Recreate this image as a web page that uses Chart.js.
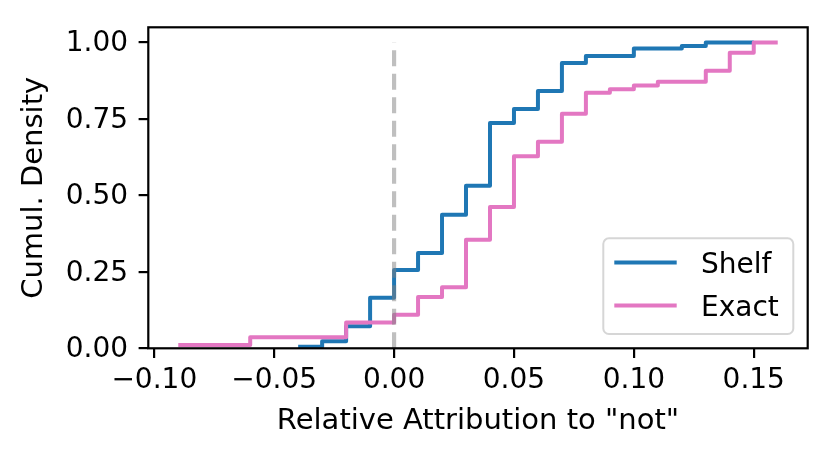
<!DOCTYPE html>
<html><head><meta charset="utf-8">
<script src="https://cdn.jsdelivr.net/npm/chart.js@4.4.1/dist/chart.umd.min.js"></script>
<style>html,body{margin:0;padding:0;background:#fff;} #wrap{width:829px;height:460px;}</style>
</head><body><div id="wrap"><canvas id="c" width="829" height="460"></canvas></div>
<script>
// ---- data ----
const seriesNames = ['Shelf', 'Exact'];
const shelfX = [-0.04, -0.03, -0.02, -0.01, 0.00, 0.01, 0.02, 0.03, 0.04, 0.05, 0.06, 0.07, 0.08, 0.10, 0.12, 0.13, 0.15];
const shelfY = [0.005, 0.023, 0.072, 0.165, 0.256, 0.312, 0.437, 0.532, 0.737, 0.783, 0.842, 0.933, 0.956, 0.981, 0.989, 1.0, 1.0];
const exactX = [-0.09, -0.06, -0.02, 0.00, 0.01, 0.02, 0.03, 0.04, 0.05, 0.06, 0.07, 0.08, 0.09, 0.10, 0.11, 0.13, 0.14, 0.15, 0.16];
const exactY = [0.011, 0.036, 0.084, 0.110, 0.168, 0.200, 0.355, 0.462, 0.628, 0.676, 0.767, 0.836, 0.847, 0.860, 0.872, 0.908, 0.967, 1.0, 1.0];
const refLineX = [0, 0];
const refLineY = [0, 1];
const xTicks = [-0.10, -0.05, 0.00, 0.05, 0.10, 0.15];
const yTicks = [0.00, 0.25, 0.50, 0.75, 1.00];
const xLimits = [-0.1025, 0.1725];
const yLimits = [0, 1.05];
const xLabel = 'Relative Attribution to "not"';
const yLabel = 'Cumul. Density';

// ---- styling ----
const FONT = 'DejaVu Sans';
const toPts = (xs, ys) => xs.map((x, i) => ({x: x, y: ys[i]}));
const fmt = v => (v < 0 ? '\u2212' : '') + Math.abs(v).toFixed(2);

const frameAndLegend = {
  id: 'frameAndLegend',
  afterDatasetsDraw(chart) {
    const ctx = chart.ctx, a = chart.chartArea;
    ctx.save();
    ctx.strokeStyle = '#000';
    ctx.lineWidth = 2.2;
    ctx.strokeRect(a.left, a.top, a.right - a.left, a.bottom - a.top);
    // legend box
    const bx = 603.3, by = 238.3, bw = 190, bh = 95.7, r = 5.6;
    ctx.beginPath();
    ctx.roundRect(bx, by, bw, bh, r);
    ctx.fillStyle = 'rgba(255,255,255,0.8)';
    ctx.fill();
    ctx.strokeStyle = 'rgba(204,204,204,0.8)';
    ctx.lineWidth = 2;
    ctx.stroke();
    const rows = [262.5, 305.5];
    ctx.font = '28px "' + FONT + '"';
    ctx.textBaseline = 'alphabetic';
    ctx.textAlign = 'left';
    seriesNames.forEach((name, i) => {
      const ds = chart.data.datasets.find(d => d.label === name);
      ctx.beginPath();
      ctx.strokeStyle = ds.borderColor;
      ctx.lineWidth = ds.borderWidth;
      ctx.moveTo(614.3, rows[i]);
      ctx.lineTo(676.7, rows[i]);
      ctx.stroke();
      ctx.fillStyle = '#000';
      ctx.fillText(name, 701, rows[i] + 10.2);
    });
    ctx.restore();
  }
};

const gridOpts = {display: true, drawOnChartArea: false, drawTicks: true, tickLength: 9.7, tickWidth: 2.2, tickColor: '#000', color: '#000', lineWidth: 2.2};

new Chart(document.getElementById('c'), {
  type: 'line',
  data: {
    datasets: [
      {label: 'ref', data: toPts(refLineX, refLineY), borderColor: 'rgba(128,128,128,0.5)', borderWidth: 4.2, borderDash: [16, 7.5], pointRadius: 0, order: 0},
      {label: seriesNames[1], data: toPts(exactX, exactY), borderColor: '#e377c2', borderWidth: 4, stepped: 'before', pointRadius: 0, order: 1, borderCapStyle: 'butt', borderJoinStyle: 'round'},
      {label: seriesNames[0], data: toPts(shelfX, shelfY), borderColor: '#1f77b4', borderWidth: 4, stepped: 'before', pointRadius: 0, order: 2, borderCapStyle: 'butt', borderJoinStyle: 'round'}
    ]
  },
  options: {
    responsive: false,
    devicePixelRatio: 1,
    animation: false,
    layout: {padding: {left: 0, top: 21, right: 21.3, bottom: 0}},
    plugins: {legend: {display: false}, tooltip: {enabled: false}},
    scales: {
      x: {
        type: 'linear', min: xLimits[0], max: xLimits[1],
        afterBuildTicks: s => { s.ticks = xTicks.map(v => ({value: v})); },
        afterFit: s => { s.height = 460 - 348.3; },
        grid: gridOpts,
        border: {display: false},
        ticks: {callback: v => fmt(v), color: '#000', font: {family: FONT, size: 28}, padding: 6, maxRotation: 0, autoSkip: false},
        title: {display: true, text: xLabel, color: '#000', font: {family: FONT, size: 29}, padding: {top: 0, bottom: 20.9}}
      },
      y: {
        type: 'linear', min: yLimits[0], max: yLimits[1],
        afterBuildTicks: s => { s.ticks = yTicks.map(v => ({value: v})); },
        afterFit: s => { s.width = 148.3; },
        grid: gridOpts,
        border: {display: false},
        ticks: {callback: v => fmt(v), color: '#000', font: {family: FONT, size: 28}, padding: 10.5, labelOffset: 1.5, autoSkip: false},
        title: {display: true, text: yLabel, color: '#000', font: {family: FONT, size: 29}, padding: {top: 17, bottom: 0}}
      }
    }
  },
  plugins: [frameAndLegend]
});
</script>
</body></html>
